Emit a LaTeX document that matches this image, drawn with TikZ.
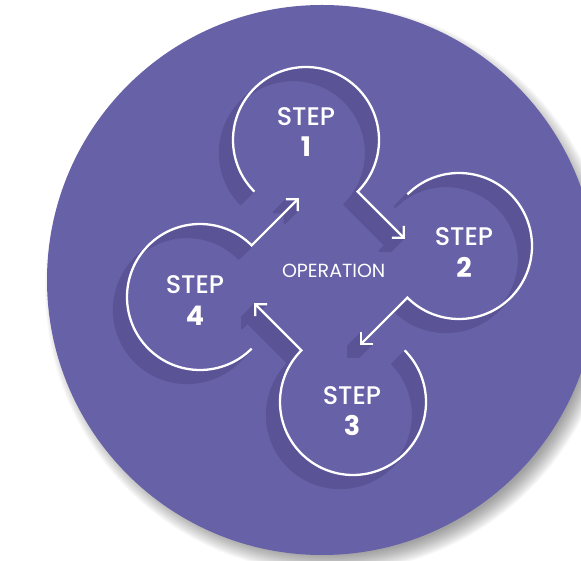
\documentclass[tikz,border=0pt]{standalone}
\usepackage{fontspec}
\setmainfont{Poppins}
\newfontfamily\popmedium{Poppins Medium}
\usepackage{tikz}
\usetikzlibrary{arrows.meta}

\definecolor{opviolet}{HTML}{6761A7}
\definecolor{opshade}{HTML}{5A5497}

% the four open rings with their arrows, centred on s1..s4
\newcommand{\opcycle}[1]{%
  \draw[#1] (s1.225) arc[start angle=225, end angle=-45, radius=73] -- ++(-45:67);
  \draw[#1] (s2.135) arc[start angle=135, end angle=-135, radius=73] -- ++(225:67);
  \draw[#1] (s3.45) arc[start angle=45, end angle=-225, radius=73] -- ++(135:67);
  \draw[#1] (s4.-45) arc[start angle=-45, end angle=-315, radius=73] -- ++(45:67);
}

\begin{document}
\begin{tikzpicture}[x=1pt, y=1pt,
  stepring/.style={circle, minimum size=146pt, inner sep=0pt, outer sep=0pt},
  steparc/.style={line width=2.3pt, -{Straight Barb[angle=90:12pt]}},
  steptext/.style={text=white, align=center, inner sep=0pt,
    font=\popmedium\fontsize{25.5}{31.5}\selectfont}]
\useasboundingbox (0,0) rectangle (581,560);
\clip (0,0) rectangle (581,560);

% soft shadow under the disc
\foreach \k in {0,...,18}
  \fill[black, opacity=0.025] (329,271) circle ({266+\k});
\fill[opviolet] (322,280) circle (275);

\node[stepring] (s1) at (306,420) {};
\node[stepring] (s2) at (459,314) {};
\node[stepring] (s3) at (353,158) {};
\node[stepring] (s4) at (200,263) {};

% long shadow of the rings
\foreach \k in {1,...,13}{
  \begin{scope}[transform canvas={shift={(-\k pt,-\k pt)}}]
    \opcycle{steparc, opshade}
  \end{scope}
}
\opcycle{steparc, white}

\node[steptext] (t1) at (306,428) {STEP\\{\normalfont\bfseries\fontsize{27}{31.5}\selectfont 1}};
\node[steptext] (t2) at (464,307.5) {STEP\\{\normalfont\bfseries\fontsize{27}{31.5}\selectfont 2}};
\node[steptext] (t3) at (352,149) {STEP\\{\normalfont\bfseries\fontsize{27}{31.5}\selectfont 3}};
\node[steptext] (t4) at (195,259.5) {STEP\\{\normalfont\bfseries\fontsize{27}{31.5}\selectfont 4}};

\node[text=white, font=\fontsize{19}{20}\selectfont] (op) at (333.7,289.2) {OPERATION};
\end{tikzpicture}
\end{document}
